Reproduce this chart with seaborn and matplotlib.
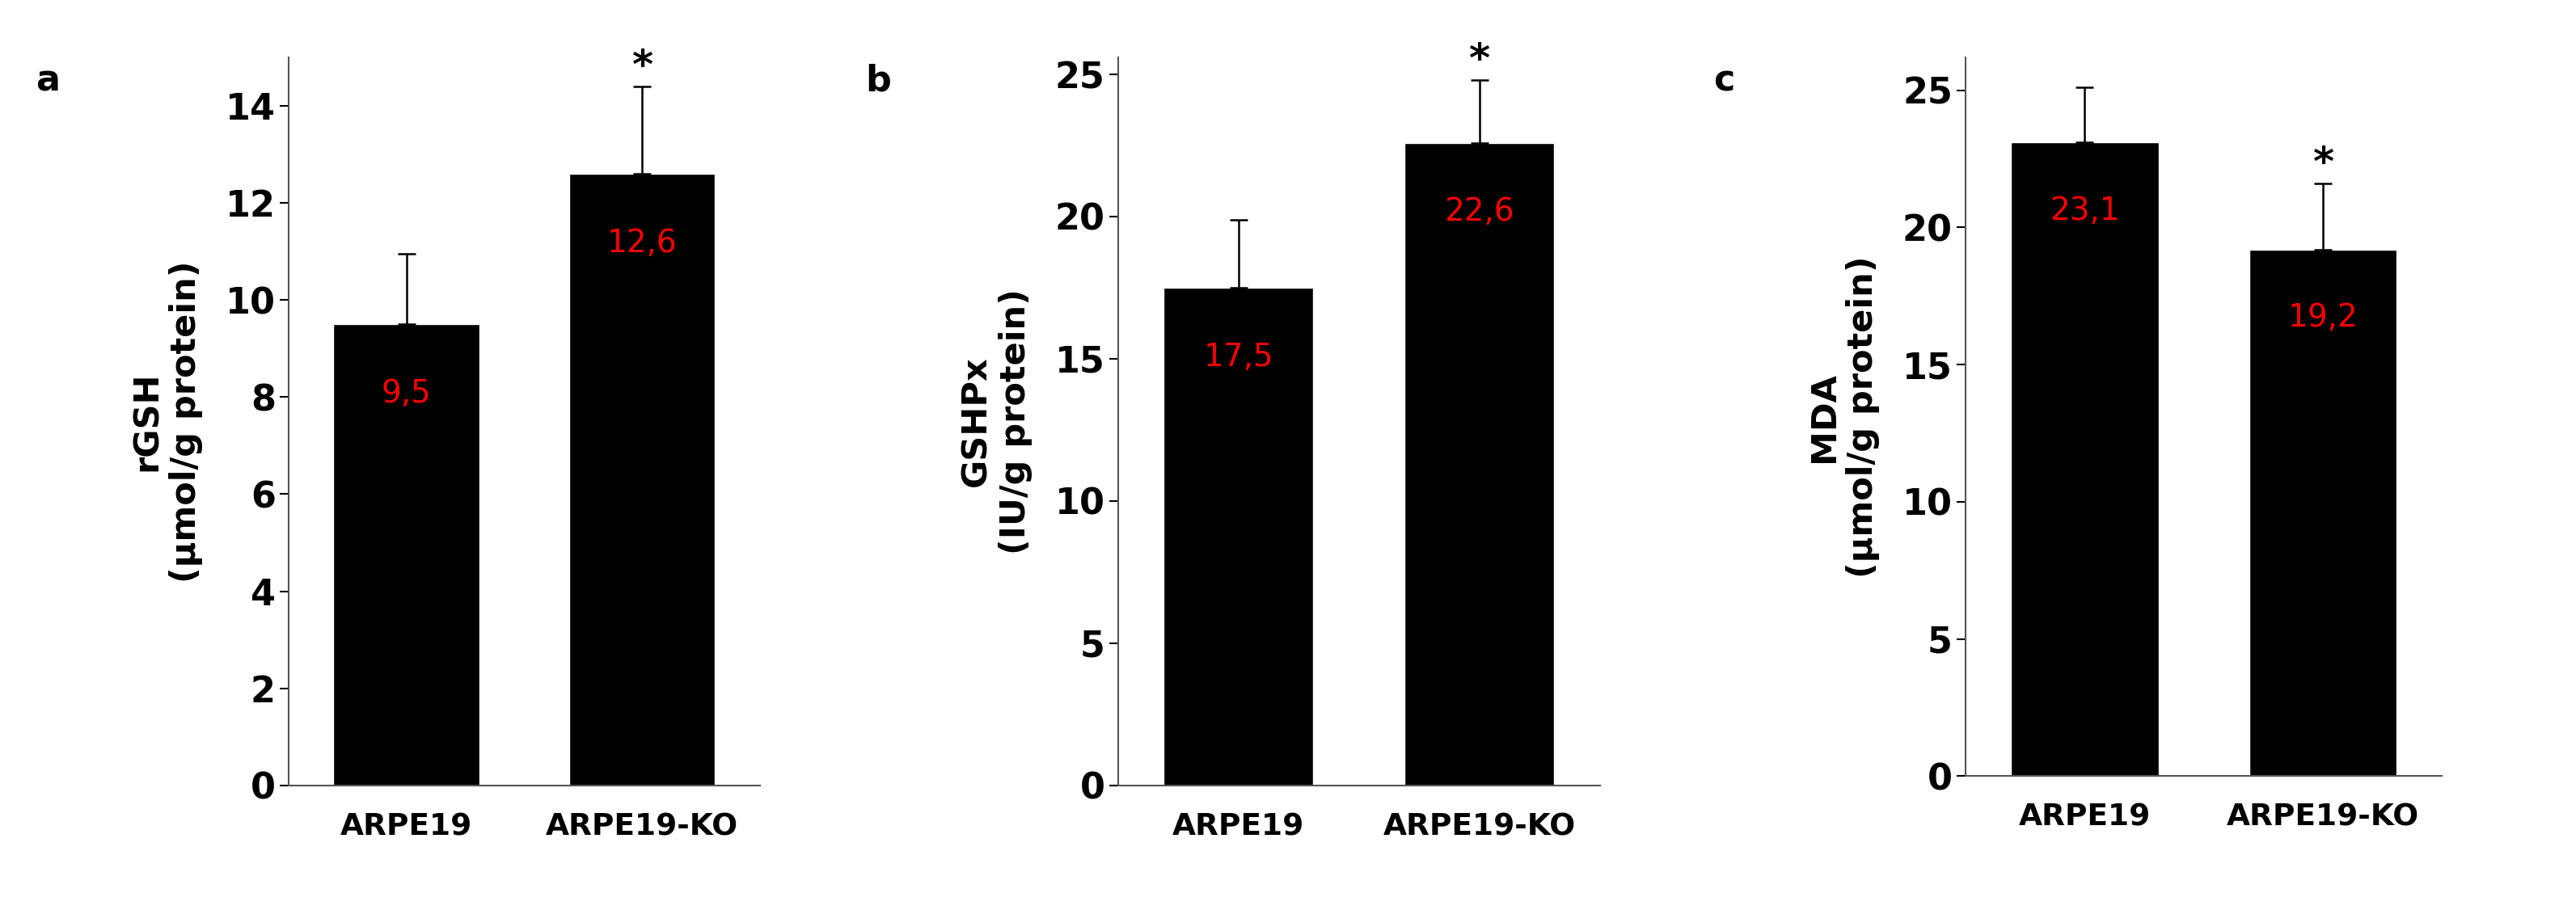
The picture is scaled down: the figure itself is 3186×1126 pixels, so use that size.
import matplotlib
matplotlib.use("Agg")
import matplotlib.pyplot as plt
import seaborn as sns
import pandas as pd

groups = ["ARPE19", "ARPE19-KO"]
rgsh = [9.5, 12.6]
rgsh_err = [1.45, 1.8]
gshpx = [17.5, 22.6]
gshpx_err = [2.4, 2.2]
mda = [23.1, 19.2]
mda_err = [2.0, 2.4]
value_labels = [["9,5", "12,6"], ["17,5", "22,6"], ["23,1", "19,2"]]
star_on = [[False, True], [False, True], [False, True]]

sns.set_style("white")
plt.rcParams["font.family"] = ["DejaVu Sans"]
plt.rcParams["text.color"] = "black"
plt.rcParams["axes.labelcolor"] = "black"
plt.rcParams["xtick.color"] = "black"
plt.rcParams["ytick.color"] = "black"

fig = plt.figure(figsize=(31.86, 11.26), dpi=100)

panels = [
    ("a", "rGSH\n(µmol/g protein)", rgsh, rgsh_err, [0.112, 0.137, 0.183, 0.80], 15, 2),
    ("b", "GSHPx\n(IU/g protein)", gshpx, gshpx_err, [0.434, 0.137, 0.187, 0.80], 25.6, 5),
    ("c", "MDA\n(µmol/g protein)", mda, mda_err, [0.763, 0.147, 0.185, 0.79], 26.2, 5),
]

for i, (letter, ylab, vals, errs, rect, ymax, step) in enumerate(panels):
    ax = fig.add_axes(rect)
    df = pd.DataFrame({"group": groups, "value": vals})
    sns.barplot(data=df, x="group", y="value", color="black", width=0.62,
                errorbar=None, ax=ax, saturation=1)
    ax.errorbar([0, 1], vals, yerr=[[0, 0], errs], fmt="none", ecolor="black",
                elinewidth=1.8, capsize=8, capthick=1.8)
    for j, v in enumerate(vals):
        ax.text(j, v - ymax * 0.095, value_labels[i][j], color="red",
                ha="center", va="center", fontsize=28)
        if star_on[i][j]:
            ax.text(j, v + errs[j] + ymax * 0.0, "*", ha="center", va="bottom",
                    fontsize=36, fontweight="bold")
    ax.set_xlim(-0.5, 1.5)
    ax.set_ylim(0, ymax)
    ax.set_yticks(range(0, int(ymax) + 1, step))
    ax.tick_params(axis="y", labelsize=32, length=8, width=1.5, direction="out", left=True)
    ax.tick_params(axis="x", length=0, pad=24)
    for lab in ax.get_yticklabels():
        lab.set_fontweight("bold")
    for lab in ax.get_xticklabels():
        lab.set_fontweight("bold")
        lab.set_fontsize(27)
    ax.set_xlabel("")
    ax.set_ylabel(ylab, fontsize=31, fontweight="bold", labelpad=20)
    sns.despine(ax=ax)
    for s in ["left", "bottom"]:
        ax.spines[s].set_color("#555555")
        ax.spines[s].set_linewidth(1.5)
    fig.text(rect[0] - 0.098, 0.9, letter, fontsize=32, fontweight="bold")

fig.savefig("out.png", dpi=100)
